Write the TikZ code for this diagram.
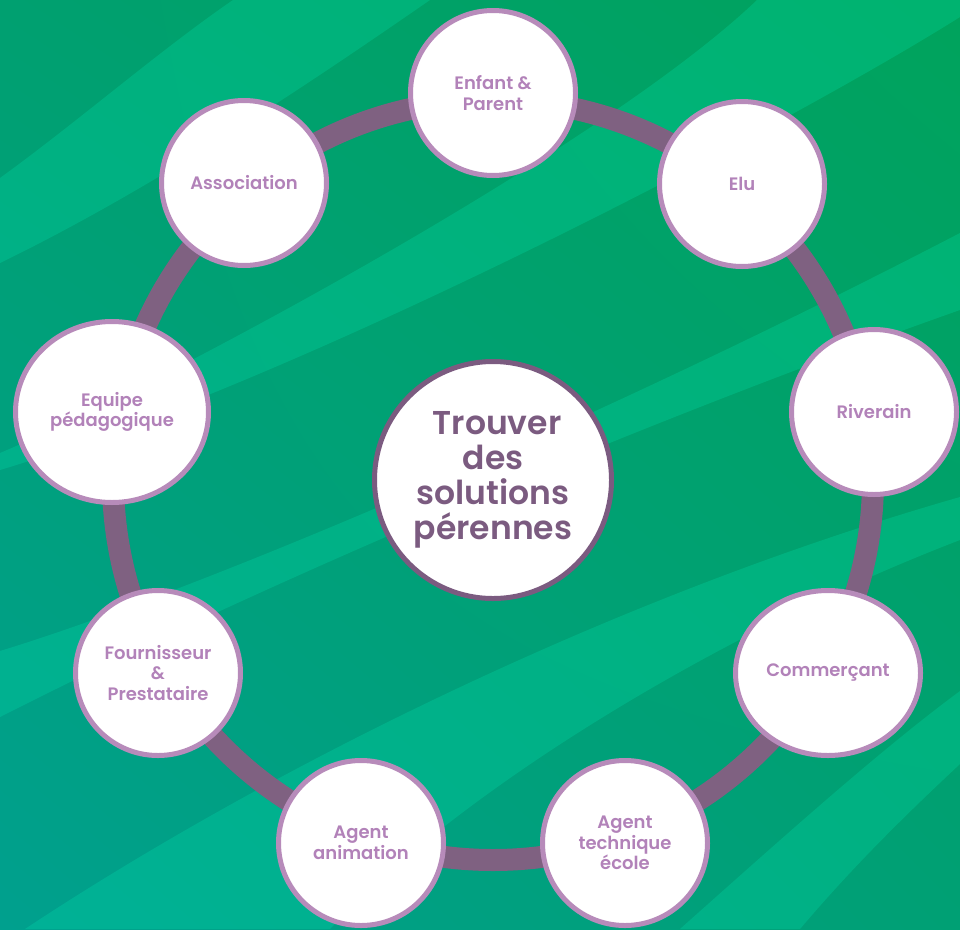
\documentclass[tikz,border=0pt]{standalone}
\usepackage{fontspec}
\setmainfont{Poppins}[BoldFont={Poppins SemiBold}]
\usetikzlibrary{shapes.geometric,shadings}
\definecolor{ringc}{HTML}{7F6181}
\definecolor{bordc}{HTML}{B78BBA}
\definecolor{lblc}{HTML}{B282B9}
\definecolor{darkc}{HTML}{7B5B80}
\definecolor{bgA}{HTML}{00A070}
\definecolor{bgB}{HTML}{00A35C}
\definecolor{bgC}{HTML}{00A08E}
\definecolor{bgD}{HTML}{00A074}
\definecolor{stripec}{HTML}{00F0B8}
\begin{document}
\begin{tikzpicture}[x=1pt,y=-1pt,
  stripe/.style={fill=stripec,fill opacity=0.22},
  member/.style={circle,draw=bordc,line width=5pt,fill=white,minimum size=165pt,inner sep=0pt,
    text=lblc,font=\fontsize{18}{20.5}\selectfont\bfseries,align=center},
  wide/.style={ellipse,draw=bordc,line width=5pt,fill=white,inner sep=0pt,
    text=lblc,font=\fontsize{18}{20.5}\selectfont\bfseries,align=center},
  core/.style={circle,draw=darkc,line width=5pt,fill=white,minimum size=237pt,inner sep=0pt,
    text=darkc,font=\fontsize{33}{35}\selectfont\bfseries,align=center}]
\useasboundingbox (0,0) rectangle (960,929);
% background
\shade[upper left=bgA,upper right=bgB,lower left=bgC,lower right=bgD] (0,0) rectangle (960,929);
\fill[stripe] (0,178) .. controls (80,120) and (160,50) .. (233,0) -- (430,0) .. controls (300,90) and (150,190) .. (0,263) -- cycle;
\fill[stripe] (0,453) .. controls (150,390) and (600,150) .. (757,0) -- (960,0) -- (960,17) .. controls (780,130) and (300,380) .. (0,470) -- cycle;
\fill[stripe] (0,651) .. controls (200,590) and (600,420) .. (960,233) -- (960,310) .. controls (620,430) and (250,590) .. (0,717) -- cycle;
\fill[stripe] (25,929) .. controls (250,780) and (600,600) .. (960,497) -- (960,540) .. controls (700,640) and (450,800) .. (330,929) -- cycle;
\fill[stripe] (680,929) .. controls (780,840) and (880,750) .. (960,691) -- (960,764) .. controls (900,820) and (850,870) .. (800,929) -- cycle;
% ring
\node[circle,draw=ringc,line width=22pt,minimum size=760pt,inner sep=0pt] (ring) at (493,480) {};
% center
\node[core] (c) at (493,480) {\hspace*{8pt}Trouver\\des\\solutions\\pérennes};
% members
\node[member] (enf) at (493,93) {Enfant \&\\Parent};
\node[member] (elu) at (742,184) {Elu};
\node[member] (riv) at (874,412) {Riverain};
\node[wide,minimum width=185pt,minimum height=165pt] (com) at (828,673) {Commerçant};
\node[member] (ate) at (625,843) {Agent\\technique\\école};
\node[member] (aan) at (361,843) {Agent\\animation};
\node[member] (fou) at (158,673) {Fournisseur\\\&\\Prestataire};
\node[wide,minimum width=193pt,minimum height=181pt] (equ) at (112,412) {Equipe\\pédagogique};
\node[member] (ass) at (244,183) {Association};
\end{tikzpicture}
\end{document}
